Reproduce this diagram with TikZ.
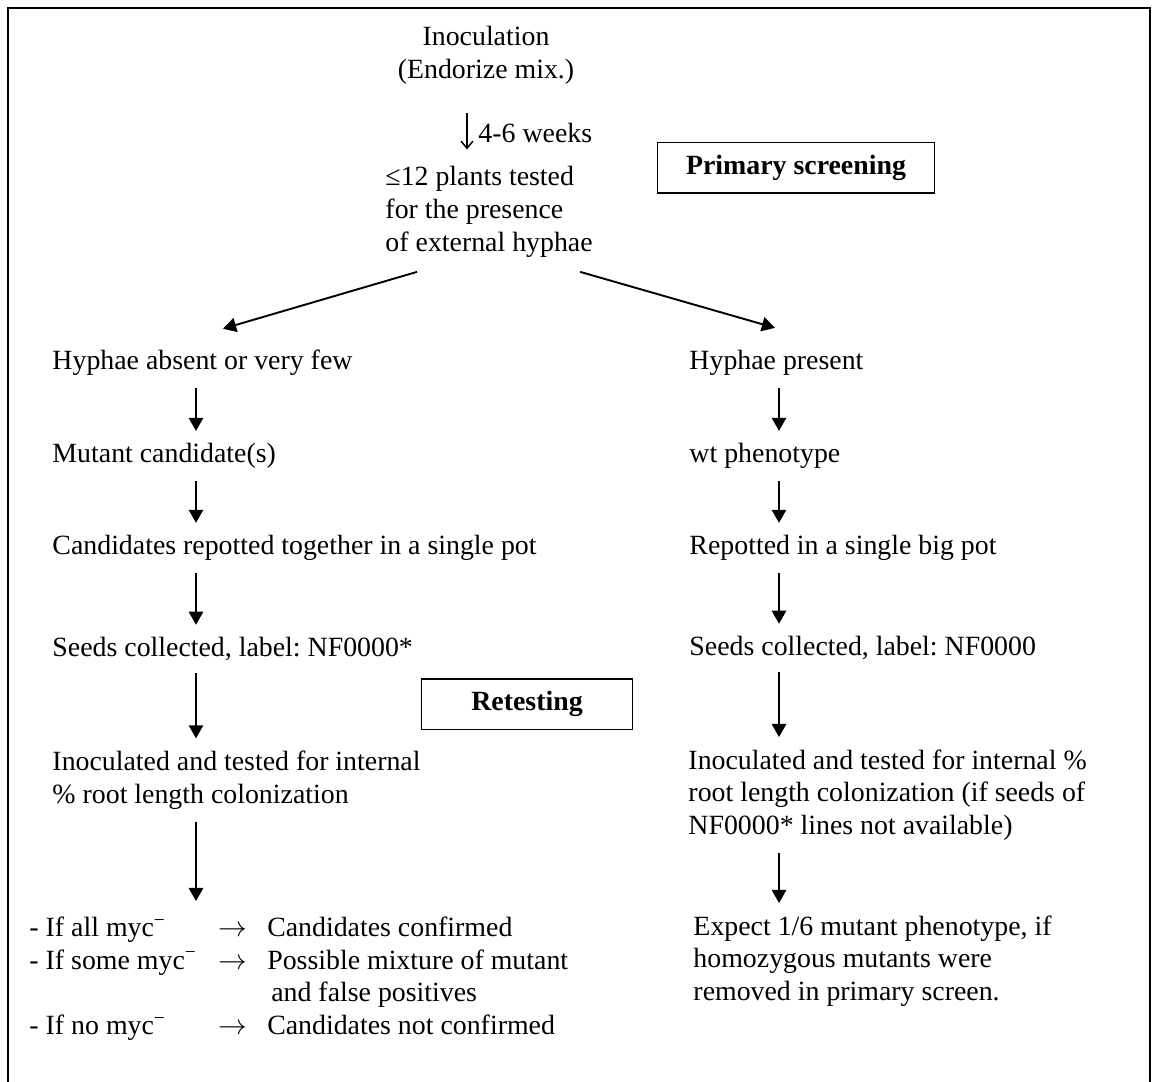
\documentclass[tikz,border=0pt]{standalone}
\usepackage{fontspec}
\setmainfont{Liberation Serif}
\usetikzlibrary{arrows.meta, calc}
\frenchspacing

\begin{document}
\begin{tikzpicture}[x=0.4184pt, y=-0.4184pt,
    every node/.style={inner sep=0pt, font=\fontsize{11.65}{13.7}\selectfont},
    txt/.style={anchor=west, align=left},
    tag/.style={draw, line width=0.8pt, minimum height=21.3pt,
                font=\fontsize{11.65}{13.7}\selectfont\bfseries},
    flow/.style={-{Triangle[length=5.5pt,width=6pt]}, line width=0.8pt,
                 shorten <=5pt, shorten >=5pt},
    diag/.style={flow, shorten <=0pt, shorten >=0pt},
    wk/.style={-{Straight Barb[length=3pt,width=5pt]}, line width=0.6pt}]

   \useasboundingbox (0,0) rectangle (1152,1082);
   \draw[line width=0.8pt] (8,1090) |- (1150,8) -- (1150,1090);

   % primary screening
   \node (inoc) [align=center] at (486,55) {Inoculation\\(Endorize mix.)};
   \node (weeks) [txt] at (478,133) {4-6 weeks};
   \node (plants) [txt] at (385,212) {≤12 plants tested\\for the presence\\of external hyphae};
   \node (primary) [tag, minimum width=115.9pt] at (796,168) {Primary screening};
   \coordinate (wkx) at (467,0);
   \draw[wk, shorten <=12pt, shorten >=7pt] (inoc.south -| wkx) -- (plants.north -| wkx);

   % left branch
   \node (absent) [txt] at (52,363) {Hyphae absent or very few};
   \node (mutant) [txt] at (52,456) {Mutant candidate(s)};
   \node (repotL) [txt] at (52,548) {Candidates repotted together in a single pot};
   \node (seedsL) [txt] at (52,649) {Seeds collected, label: NF0000*};
   \node (inocL) [txt] at (52,780) {Inoculated and tested for internal\\\% root length colonization};
   \node (retest) [tag, minimum width=88.3pt] at (527,704) {Retesting};
   \node (results) [txt] at (29,979) {\begin{tabular}{@{}p{79pt}@{}p{20.5pt}@{}l@{}}
      - If all myc\textsuperscript{−} & $\rightarrow$ & Candidates confirmed\\
      - If some myc\textsuperscript{−} & $\rightarrow$ & Possible mixture of mutant\\
       & & \hspace{1.7pt}and false positives\\
      - If no myc\textsuperscript{−} & $\rightarrow$ & Candidates not confirmed
      \end{tabular}};

   % right branch
   \node (present) [txt] at (689,363) {Hyphae present};
   \node (wt) [txt] at (689,456) {wt phenotype};
   \node (repotR) [txt] at (689,548) {Repotted in a single big pot};
   \node (seedsR) [txt] at (689,648) {Seeds collected, label: NF0000};
   \node (inocR) [txt] at (688,795) {Inoculated and tested for internal \%\\root length colonization (if seeds of\\NF0000* lines not available)};
   \node (expect) [txt] at (693,961) {Expect 1/6 mutant phenotype, if\\homozygous mutants were\\removed in primary screen.};

   \draw[diag] ($(plants.south west)+(32,14)$) -- ($(absent.north west)+(171,-21)$);
   \draw[diag] ($(plants.south east)+(-13,14)$) -- ($(present.north west)+(86,-22)$);

   \coordinate (lx) at (196,0);
   \coordinate (rx) at (779,0);
   \foreach \a/\b in {absent/mutant, mutant/repotL, repotL/seedsL, seedsL/inocL, inocL/results}
      \draw[flow] (\a.south -| lx) -- (\b.north -| lx);
   \foreach \a/\b in {present/wt, wt/repotR, repotR/seedsR, seedsR/inocR, inocR/expect}
      \draw[flow] (\a.south -| rx) -- (\b.north -| rx);

\end{tikzpicture}
\end{document}
